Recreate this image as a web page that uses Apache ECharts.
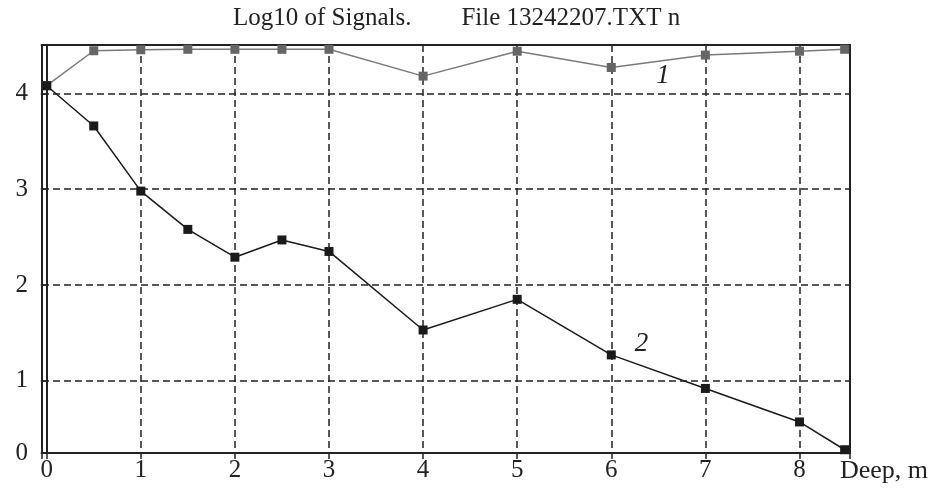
<!DOCTYPE html>
<html>
<head>
<meta charset="utf-8">
<script src="https://cdn.jsdelivr.net/npm/echarts@6/dist/echarts.min.js"></script>
<style>
html,body{margin:0;padding:0;background:#fff;}
#chart{width:938px;height:497px;}
</style>
</head>
<body>
<div id="chart"></div>
<script>
// Depth positions (m)
var depths = [0, 0.5, 1, 1.5, 2, 2.5, 3, 4, 5, 6, 7, 8, 8.48];
// Curve 1 (grey) and curve 2 (black), log10 of signals
var curve1 = [4.08, 4.445, 4.455, 4.46, 4.46, 4.46, 4.46, 4.18, 4.44, 4.27, 4.40, 4.44, 4.46];
var curve2 = [4.08, 3.66, 2.98, 2.58, 2.29, 2.47, 2.35, 1.53, 1.85, 1.27, 0.92, 0.57, 0.28];
var titleText = 'Log10 of Signals.        File 13242207.TXT n';
var xName = 'Deep, m';
var curveTags = [{name: '1', x: 6.55, y: 4.18}, {name: '2', x: 6.32, y: 1.38}];

function pairs(xs, ys) { return xs.map(function (x, i) { return [x, ys[i]]; }); }

var FONT = '"Liberation Serif", "Times New Roman", serif';
var chart = echarts.init(document.getElementById('chart'), null, {renderer: 'canvas'});
chart.setOption({
  backgroundColor: '#fff',
  animation: false,
  title: {
    text: titleText,
    left: 228, top: 1,
    textStyle: {fontFamily: FONT, fontSize: 25, fontWeight: 'normal', color: '#222'}
  },
  grid: {left: 42, right: 88, top: 45, bottom: 44, show: true, borderColor: '#222', borderWidth: 2, backgroundColor: 'transparent'},
  xAxis: {
    type: 'value', min: -0.05, max: 8.537, minInterval: 1, maxInterval: 1,
    name: xName, nameLocation: 'end', nameGap: -10,
    nameTextStyle: {fontFamily: FONT, fontSize: 26, color: '#222', align: 'left', verticalAlign: 'top', padding: [5, 0, 0, 0]},
    axisLine: {show: true, lineStyle: {color: '#222', width: 2}},
    axisTick: {show: true, length: 6, lineStyle: {color: '#222', width: 1.5}},
    axisLabel: {
      margin: 5, fontFamily: FONT, fontSize: 25, color: '#222',
      formatter: function (v) { return Math.abs(v - Math.round(v)) < 1e-6 ? String(Math.round(v)) : ''; }
    },
    splitLine: {show: true, lineStyle: {color: '#222', width: 1.5, type: [7, 4]}}
  },
  yAxis: {
    type: 'value', min: 0.246, max: 4.505, minInterval: 1, maxInterval: 1,
    axisLine: {show: true, lineStyle: {color: '#222', width: 2}},
    axisTick: {show: true, length: 6, lineStyle: {color: '#222', width: 1.5}},
    axisLabel: {
      margin: 14, fontFamily: FONT, fontSize: 25, color: '#222',
      formatter: function (v) {
        if (v < 0.5) return '0';
        if (Math.abs(v - Math.round(v)) < 1e-6) return String(Math.round(v));
        return '';
      }
    },
    splitLine: {show: true, lineStyle: {color: '#222', width: 1.5, type: [7, 4]}}
  },
  series: [
    {
      type: 'line', data: pairs(depths, curve1), symbol: 'rect', symbolSize: 9,
      lineStyle: {color: '#7a7a7a', width: 1.5}, itemStyle: {color: '#666'}, z: 3,
      markPoint: {
        symbol: 'rect', symbolSize: 1, itemStyle: {color: 'transparent'},
        label: {show: true, position: 'inside', formatter: '{b}', fontFamily: FONT, fontStyle: 'italic', fontSize: 27, color: '#222'},
        data: [{name: curveTags[0].name, coord: [curveTags[0].x, curveTags[0].y]}]
      }
    },
    {
      type: 'line', data: pairs(depths, curve2), symbol: 'rect', symbolSize: 9,
      lineStyle: {color: '#1a1a1a', width: 1.5}, itemStyle: {color: '#1a1a1a'}, z: 4,
      markPoint: {
        symbol: 'rect', symbolSize: 1, itemStyle: {color: 'transparent'},
        label: {show: true, position: 'inside', formatter: '{b}', fontFamily: FONT, fontStyle: 'italic', fontSize: 27, color: '#222'},
        data: [{name: curveTags[1].name, coord: [curveTags[1].x, curveTags[1].y]}]
      }
    }
  ]
});
</script>
</body>
</html>
